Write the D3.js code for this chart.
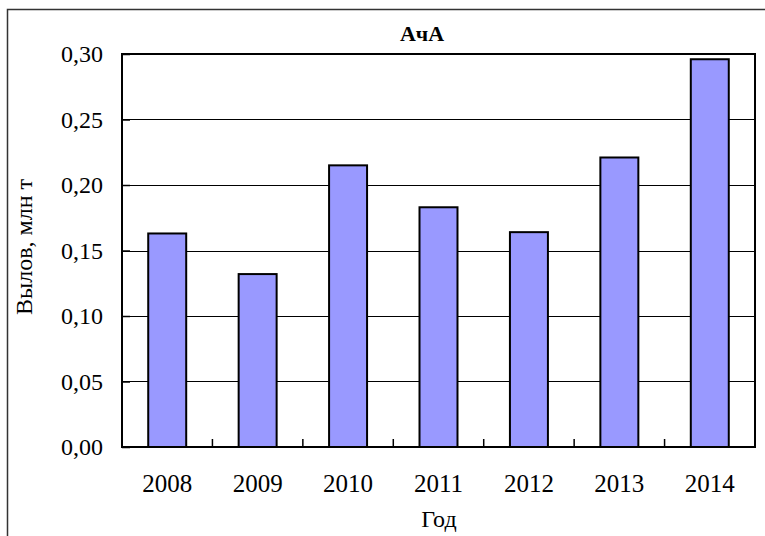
<!DOCTYPE html>
<html>
<head>
<meta charset="utf-8">
<script src="https://cdn.jsdelivr.net/npm/d3@7"></script>
<style>
  html, body { margin: 0; padding: 0; background: #fff; }
  svg { display: block; }
</style>
</head>
<body>
<svg id="chart" width="765" height="536"></svg>
<script>
// Catch data (million tonnes) by year
const years = ["2008", "2009", "2010", "2011", "2012", "2013", "2014"];
const catchValues = [0.163, 0.132, 0.215, 0.183, 0.164, 0.221, 0.296];
const yTicks = [0, 0.05, 0.10, 0.15, 0.20, 0.25, 0.30];
const chartTitle = "АчА";
const xTitle = "Год";
const yTitle = "Вылов, млн т";

const FONT = "Liberation Serif";
const W = 765, H = 536;
const margin = { left: 122, top: 54, right: 10, bottom: 89 };
const plotW = W - margin.left - margin.right;
const plotH = H - margin.top - margin.bottom;

const svg = d3.select("#chart");

// outer frame of the chart area
svg.append("rect")
  .attr("x", 7.5).attr("y", 9.5)
  .attr("width", 900).attr("height", 700)
  .attr("fill", "none").attr("stroke", "#333").attr("stroke-width", 1.5);

const g = svg.append("g").attr("transform", `translate(${margin.left},${margin.top})`);

const x = d3.scaleBand().domain(years).range([0, plotW]).paddingInner(0.58).paddingOuter(0.29);
const xCat = d3.scaleBand().domain(years).range([0, plotW]);
const y = d3.scaleLinear().domain([0, 0.30]).range([plotH, 0]);

// horizontal gridlines
g.append("g").selectAll("line")
  .data(yTicks.filter(v => v > 0 && v < 0.30))
  .join("line")
  .attr("x1", 0).attr("x2", plotW)
  .attr("y1", d => Math.round(y(d)) + 0.5).attr("y2", d => Math.round(y(d)) + 0.5)
  .attr("stroke", "#000").attr("stroke-width", 1);

// bars
g.append("g").selectAll("rect")
  .data(years.map((yr, i) => ({ yr, v: catchValues[i] })))
  .join("rect")
  .attr("x", d => x(d.yr))
  .attr("width", x.bandwidth())
  .attr("y", d => y(d.v))
  .attr("height", d => plotH - y(d.v))
  .attr("fill", "#9999FF")
  .attr("stroke", "#000")
  .attr("stroke-width", 2);

// plot frame
g.append("rect")
  .attr("x", 0).attr("y", 0)
  .attr("width", plotW).attr("height", plotH)
  .attr("fill", "none").attr("stroke", "#000").attr("stroke-width", 2);

// y axis: inward ticks and labels
const yAxis = d3.axisLeft(y)
  .tickValues(yTicks)
  .tickSize(-8)
  .tickPadding(19)
  .tickFormat(d => d3.format(".2f")(d).replace(".", ","));
const ya = g.append("g").call(yAxis);
ya.select(".domain").remove();
ya.selectAll(".tick line").attr("stroke", "#000").attr("stroke-width", 1.5);
ya.selectAll(".tick text")
  .style("font-family", FONT)
  .style("font-size", "24px")
  .attr("fill", "#000");

// x axis: inward ticks between categories
const boundaries = years.slice(1).map(yr => xCat(yr));
g.append("g").selectAll("line")
  .data(boundaries)
  .join("line")
  .attr("x1", d => d).attr("x2", d => d)
  .attr("y1", plotH).attr("y2", plotH - 8)
  .attr("stroke", "#000").attr("stroke-width", 1.5);

g.append("g").selectAll("text")
  .data(years)
  .join("text")
  .attr("x", d => xCat(d) + xCat.bandwidth() / 2)
  .attr("y", plotH + 45)
  .attr("text-anchor", "middle")
  .style("font-family", FONT)
  .style("font-size", "25px")
  .text(d => d);

// titles
svg.append("text")
  .attr("x", 422).attr("y", 41)
  .attr("text-anchor", "middle")
  .style("font-family", FONT)
  .style("font-size", "22px")
  .style("font-weight", "bold")
  .text(chartTitle);

svg.append("text")
  .attr("x", 439).attr("y", 527)
  .attr("text-anchor", "middle")
  .style("font-family", FONT)
  .style("font-size", "24px")
  .text(xTitle);

svg.append("text")
  .attr("transform", "translate(32,247) rotate(-90)")
  .attr("text-anchor", "middle")
  .style("font-family", FONT)
  .style("font-size", "24px")
  .text(yTitle);
</script>
</body>
</html>
